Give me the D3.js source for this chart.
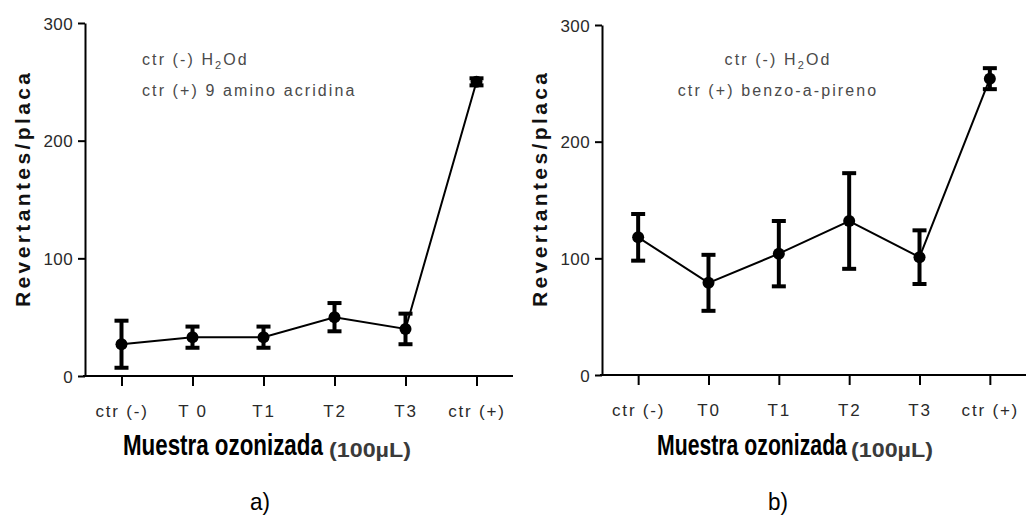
<!DOCTYPE html>
<html>
<head>
<meta charset="utf-8">
<script src="https://cdn.jsdelivr.net/npm/d3@7"></script>
<style>
  body { margin: 0; background: #fff; }
  svg { display: block; }
</style>
</head>
<body>
<div class="canvas"></div>
<script>
// muestras y valores (revertantes/placa, media y error)
const categories = ['ctr (-)', 'T0', 'T1', 'T2', 'T3', 'ctr (+)'];
const tickLabelsA = ['ctr (-)', 'T 0', 'T1', 'T2', 'T3', 'ctr (+)'];
const meansA = [27, 33, 33, 50, 40, 250];
const errA = [20, 9, 9, 12, 13, 3];
const meansB = [118, 79, 104, 132, 101, 254];
const errB = [20, 24, 28, 41, 23, 9];
const yTicks = [0, 100, 200, 300];
const notesA = ['ctr (-) H|2|Od', 'ctr (+) 9 amino acridina'];
const notesB = ['ctr (-) H|2|Od', 'ctr (+) benzo-a-pireno'];

const svg = d3.select('.canvas')
  .append('svg')
    .attr('width', 1026)
    .attr('height', 515)

// texto estrecho: mide el ancho y lo escala en x
var narrowText = (g, txt, x, y, w, size, weight, color) => {
  const t = g.append('text')
    .attr('font-family', 'Liberation Sans, Arial, sans-serif')
    .attr('font-size', size)
    .attr('font-weight', weight)
    .attr('fill', color)
    .text(txt)
  const len = t.node().getComputedTextLength()
  t.attr('transform', `translate(${x}, ${y}) scale(${w / len}, 1)`)
  return t
}

var drawPanel = (opts) => {
  const g = svg.append('g')
    .attr('transform', `translate(${opts.dx}, 0)`)

  const x = d3.scalePoint()
    .domain(categories)
    .range([85, opts.xEnd])
    .padding(0.514)

  const y = d3.scaleLinear()
    .domain([0, 300])
    .range([opts.y0, opts.y300])

  const data = categories.map((c, i) => ({ cat: c, m: opts.means[i], e: opts.errs[i] }));

  // ejes
  const xAxis = d3.axisBottom(x)
    .tickSizeInner(10)
    .tickSizeOuter(0)
    .tickFormat((d, i) => opts.tickLabels[i])
  const xg = g.append('g')
    .attr('transform', `translate(0, ${opts.y0})`)
    .call(xAxis)
  xg.select('.domain').attr('stroke', '#000').attr('stroke-width', 2).attr('d', `M83,0H${opts.xEnd}`)
  xg.selectAll('.tick line').attr('stroke', '#000').attr('stroke-width', 2)
  xg.selectAll('.tick text')
    .attr('y', 29)
    .attr('fill', '#2a2a2a')
    .attr('font-family', 'Liberation Sans, Arial, sans-serif')
    .attr('font-size', 17)
    .attr('letter-spacing', 1.8)

  const yAxis = d3.axisLeft(y)
    .tickValues(yTicks)
    .tickSizeInner(7)
    .tickSizeOuter(0)
  const yg = g.append('g')
    .attr('transform', 'translate(85, 0)')
    .call(yAxis)
  yg.select('.domain').attr('stroke', '#000').attr('stroke-width', 2)
  yg.selectAll('.tick line').attr('stroke', '#000').attr('stroke-width', 2)
  yg.selectAll('.tick text')
    .attr('x', -12)
    .attr('dy', '0.36em')
    .attr('fill', '#2a2a2a')
    .attr('font-family', 'Liberation Sans, Arial, sans-serif')
    .attr('font-size', 17)
    .attr('letter-spacing', 0.4)

  // linea
  const line = d3.line()
    .x(d => x(d.cat))
    .y(d => y(d.m))
  g.append('path')
    .datum(data)
    .attr('d', line)
    .attr('fill', 'none')
    .attr('stroke', '#000')
    .attr('stroke-width', 2)

  // barras de error
  const bars = g.selectAll('.err')
    .data(data)
    .enter()
    .append('g')
      .attr('class', 'err')
  bars.append('line')
    .attr('x1', d => x(d.cat)).attr('x2', d => x(d.cat))
    .attr('y1', d => y(d.m - d.e)).attr('y2', d => y(d.m + d.e))
    .attr('stroke', '#000').attr('stroke-width', 4)
  bars.selectAll('.cap')
    .data(d => [d.m - d.e, d.m + d.e].map(v => ({ cat: d.cat, v: v })))
    .enter()
    .append('line')
      .attr('x1', d => x(d.cat) - 7).attr('x2', d => x(d.cat) + 7)
      .attr('y1', d => y(d.v)).attr('y2', d => y(d.v))
      .attr('stroke', '#000').attr('stroke-width', 4)

  g.selectAll('.pt')
    .data(data)
    .enter()
    .append('circle')
      .attr('cx', d => x(d.cat))
      .attr('cy', d => y(d.m))
      .attr('r', 6)
      .attr('fill', '#000')

  // notas
  opts.notes.forEach((n, i) => {
    const t = g.append('text')
      .attr('x', opts.noteX)
      .attr('y', 65 + i * 31)
      .attr('text-anchor', opts.noteAnchor)
      .attr('fill', '#4a4a4a')
      .attr('font-family', 'Liberation Sans, Arial, sans-serif')
      .attr('font-size', 16)
      .attr('letter-spacing', 2.1)
    n.split('|').forEach((part, j) => {
      t.append('tspan')
        .attr('font-size', j == 1 ? 11 : 16)
        .attr('dy', j == 1 ? 4 : (j == 2 ? -4 : 0))
        .text(part)
    })
  })

  // titulos
  g.append('text')
    .attr('transform', `translate(30, ${opts.yLabelC}) rotate(-90)`)
    .attr('text-anchor', 'middle')
    .attr('font-family', 'Liberation Sans, Arial, sans-serif')
    .attr('font-weight', 'bold')
    .attr('font-size', 21)
    .attr('textLength', 234)
    .attr('lengthAdjust', 'spacing')
    .attr('fill', '#111')
    .text('Revertantes/placa')

  narrowText(g, 'Muestra ozonizada', opts.xTitleX, 455, opts.xTitleW, 29, 'bold', '#000')
  narrowText(g, '(100µL)', opts.xTitleX + opts.xTitleW + opts.xTitleGap, 457, 82, 21, 'bold', '#3a3a3a')
  narrowText(g, opts.letter, opts.letterX, 510, 20, 24, 'normal', '#000')
}

drawPanel({
  dx: 0, xEnd: 513, y0: 376, y300: 23,
  means: meansA, errs: errA, tickLabels: tickLabelsA,
  notes: notesA, noteX: 142, noteAnchor: 'start',
  yLabelC: 190, xTitleX: 123, xTitleW: 200, xTitleGap: 6, letterX: 250, letter: 'a)'
})

drawPanel({
  dx: 517, xEnd: 509, y0: 375, y300: 25,
  means: meansB, errs: errB, tickLabels: categories,
  notes: notesB, noteX: 261, noteAnchor: 'middle',
  yLabelC: 190, xTitleX: 140, xTitleW: 190, xTitleGap: 4, letterX: 251, letter: 'b)'
})
</script>
</body>
</html>
